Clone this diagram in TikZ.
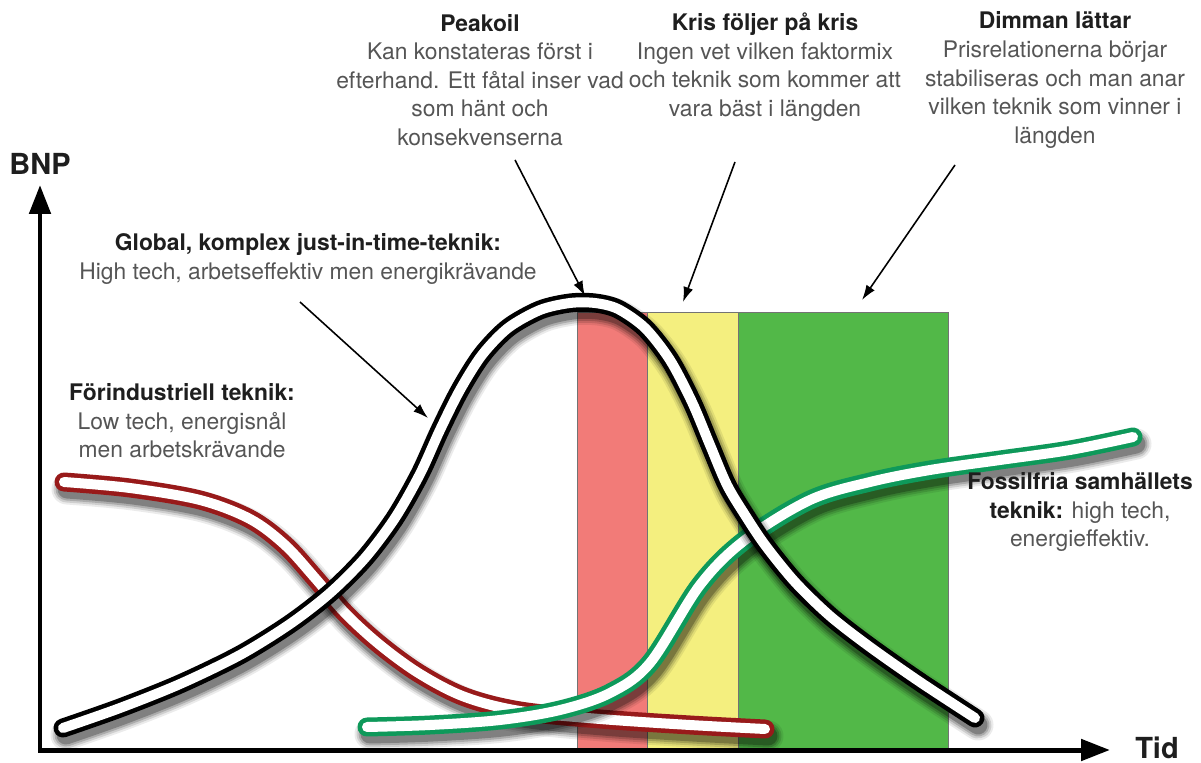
\documentclass[tikz,border=0pt]{standalone}
\usepackage{fontspec}
\setmainfont{TeX Gyre Heros}
\usetikzlibrary{arrows.meta}
\definecolor{titlec}{HTML}{1E1E1E}
\definecolor{bodyc}{HTML}{555555}
\definecolor{redband}{HTML}{F27B78}
\definecolor{yellowband}{HTML}{F4EF7F}
\definecolor{greenband}{HTML}{52B848}
\definecolor{tubered}{HTML}{981A1A}
\definecolor{tubegreen}{HTML}{0E995A}
\tikzset{
  lbl/.style={align=center, font=\fontsize{13}{16.3}\selectfont, text=bodyc, inner sep=0pt},
  axislbl/.style={font=\bfseries\fontsize{16.5}{19}\selectfont, text=titlec, inner sep=0pt},
  band/.style={draw=black!55, line width=0.5pt},
  axisline/.style={line width=0.1cm, line join=miter,
    {Triangle[width=0.42cm,length=0.58cm]}-{Triangle[width=0.42cm,length=0.58cm]}},
  annot/.style={line width=0.9pt, -{Latex[length=0.3cm,width=0.2cm]}},
  tubeshadow/.style={line cap=round, black, shift={(3,7)}},
  tubeouter/.style={line width=0.38cm, line cap=round},
  tubeinner/.style={line width=0.2cm, white, line cap=round},
}
\newcommand{\ttl}[1]{{\bfseries\color{titlec}#1}}
\newcommand{\tubecurve}[2]{%
  \foreach \sw/\so in {0.62/0.08,0.54/0.12,0.46/0.17,0.38/0.25}{%
    \draw[tubeshadow, line width=\sw cm, opacity=\so] #2;}
  \draw[tubeouter, #1] #2;
  \draw[tubeinner] #2;
}
\def\redcurve{plot[smooth,tension=0.55] coordinates {(64,482) (130,488) (200,500) (250,519) (285,545) (315,578) (345,613) (380,645) (420,674) (465,697) (520,711) (600,719) (690,725) (765,729)}}
\def\greencurve{plot[smooth,tension=0.55] coordinates {(367,727) (430,725) (500,720) (560,710) (610,693) (650,663) (700,585) (745,540) (810,500) (870,482) (930,470) (1000,460) (1070,450) (1133,437)}}
\def\blackcurve{plot[smooth,tension=0.5] coordinates {(63,728) (120,708) (180,684) (240,655) (290,624) (330,593) (365,558) (395,518) (420,474) (440,430) (460,390) (482,355) (508,328) (540,310) (570,303) (595,303) (618,309) (645,328) (670,360) (692,402) (710,445) (727,485) (745,515) (765,545) (795,582) (830,616) (870,647) (920,682) (975,718)}}
\begin{document}
\begin{tikzpicture}[x=0.02cm,y=-0.02cm]
\useasboundingbox (0,0) rectangle (1201,763);
% bands
\fill[redband, band] (577,312) rectangle (647,750);
\fill[yellowband, band] (647,312) rectangle (738,750);
\fill[greenband, band] (738,312) rectangle (948,750);
% axes
\coordinate (O) at (40,750);
\coordinate (ytip) at (40,185);
\coordinate (xtip) at (1110,750);
\draw[axisline] (ytip) -- (O) -- (xtip);
\node[axislbl] (bnp) at (40,164) {BNP};
\node[axislbl] (tid) at (1157,748) {Tid};
% tubes
\tubecurve{tubered}{\redcurve}
\tubecurve{tubegreen}{\greencurve}
\tubecurve{black}{\blackcurve}
% labels
\node[lbl] (peak) at (480,80) {\ttl{Peakoil}\\Kan konstateras först i\\efterhand. Ett fåtal inser vad\\som hänt och\\konsekvenserna};
\node[lbl] (kris) at (765,67) {\ttl{Kris följer på kris}\\Ingen vet vilken faktormix\\och teknik som kommer att\\vara bäst i längden};
\node[lbl] (dimma) at (1055,80) {\ttl{Dimman lättar}\\Prisrelationerna börjar\\stabiliseras och man anar\\vilken teknik som vinner i\\längden};
\node[lbl] (global) at (308,259) {\ttl{Global, komplex just-in-time-teknik:}\\High tech, arbetseffektiv men energikrävande};
\node[lbl] (forind) at (182,421) {\ttl{Förindustriell teknik:}\\Low tech, energisnål\\men arbetskrävande};
\node[lbl] (fossil) at (1080,512) {\ttl{Fossilfria samhällets}\\\ttl{teknik:} high tech,\\energieffektiv.};
% annotation arrows
\coordinate (peakA) at (515,160);
\coordinate (peakB) at (585,296);
\coordinate (krisA) at (735,162);
\coordinate (krisB) at (683,302);
\coordinate (dimA) at (955,165);
\coordinate (dimB) at (862,300);
\coordinate (globA) at (300,302);
\coordinate (globB) at (428,418);
\draw[annot] (peakA) -- (peakB);
\draw[annot] (krisA) -- (krisB);
\draw[annot] (dimA) -- (dimB);
\draw[annot] (globA) -- (globB);
\end{tikzpicture}
\end{document}
